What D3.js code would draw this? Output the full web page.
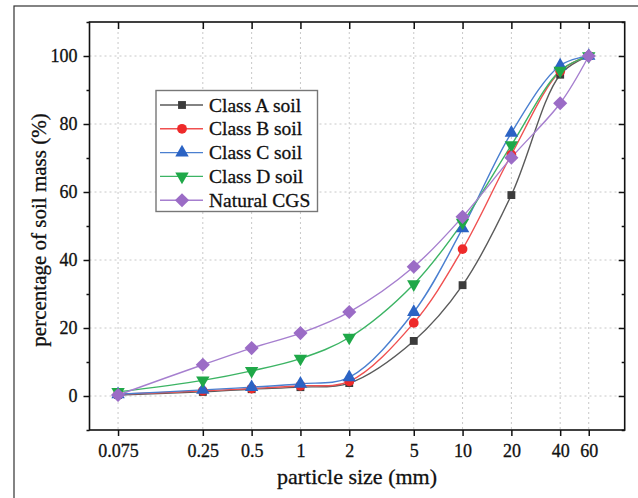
<!DOCTYPE html>
<html><head><meta charset="utf-8">
<script src="https://cdn.jsdelivr.net/npm/d3@7"></script>
<style>body{margin:0;background:#fff}svg{display:block}</style>
</head><body>
<svg id="c" width="638" height="498"></svg>
<script>
const sizes = [0.075, 0.25, 0.5, 1, 2, 5, 10, 20, 40, 60];
const tickLabels = ["0.075","0.25","0.5","1","2","5","10","20","40","60"];
const classA = [0.3, 1.2, 2.0, 2.6, 3.8, 16.2, 32.6, 59.1, 94.5, 100];
const classB = [0.5, 1.5, 2.2, 3.0, 4.3, 21.5, 43.2, 71.0, 95.5, 100];
const classC = [0.5, 1.8, 2.6, 3.6, 5.5, 24.7, 49.3, 77.4, 97.2, 100];
const classD = [1.2, 4.6, 7.4, 11.0, 17.2, 32.9, 51.0, 73.8, 95.7, 100];
const natural = [0.3, 9.2, 14.1, 18.5, 24.7, 38.0, 52.7, 70.1, 86.1, 100];
const seriesNames = ["Class A soil","Class B soil","Class C soil","Class D soil","Natural CGS"];
const yTicks = [0, 20, 40, 60, 80, 100];

const diamond = {draw(ctx, size){ const r = Math.sqrt(size/2); ctx.moveTo(0,-r); ctx.lineTo(r,0); ctx.lineTo(0,r); ctx.lineTo(-r,0); ctx.closePath(); }};
const series = [
  {name: seriesNames[0], vals: classA, color: "#3c3c3c", line: "#5a5a5a", sym: d3.symbolSquare, size: 62, rot: 0},
  {name: seriesNames[1], vals: classB, color: "#ee2a2a", line: "#f05050", sym: d3.symbolCircle, size: 75, rot: 0},
  {name: seriesNames[2], vals: classC, color: "#2b63c4", line: "#4a7fd0", sym: d3.symbolTriangle, size: 78, rot: 0},
  {name: seriesNames[3], vals: classD, color: "#1fa848", line: "#3cb464", sym: d3.symbolTriangle, size: 78, rot: 180},
  {name: seriesNames[4], vals: natural, color: "#9b6cc6", line: "#a67fcf", sym: diamond, size: 100, rot: 0}
];

const svg = d3.select("#c");
const L = 89.5, R = 624.7, T = 22, B = 430;
const x = d3.scaleLog().domain([0.05, 100]).range([L, R]);
const y = d3.scaleLinear().domain([-10, 110]).range([B, T]);
const font = "'Liberation Serif','Times New Roman',serif";

// outer figure border
svg.append("rect").attr("x",14).attr("y",6).attr("width",700).attr("height",600)
  .attr("fill","none").attr("stroke","#333").attr("stroke-width",1.2);

// grid
const g = svg.append("g");
g.selectAll(".vg").data(sizes).join("line")
  .attr("x1", d=>x(d)).attr("x2", d=>x(d)).attr("y1", T).attr("y2", B)
  .attr("stroke","#c8c8c8").attr("stroke-width",1).attr("stroke-dasharray","2,3");
g.selectAll(".hg").data(yTicks).join("line")
  .attr("x1", L).attr("x2", R).attr("y1", d=>y(d)).attr("y2", d=>y(d))
  .attr("stroke","#c8c8c8").attr("stroke-width",1).attr("stroke-dasharray","2,3");

// axes
const xAxis = d3.axisBottom(x).tickValues(sizes).tickFormat((d,i)=>tickLabels[i]).tickSize(6).tickPadding(8);
svg.append("g").attr("transform",`translate(0,${B})`).call(xAxis)
  .attr("font-family",font).attr("font-size",18);
const xTop = d3.axisBottom(x).tickValues(sizes).tickFormat("").tickSize(7);
svg.append("g").attr("transform",`translate(0,${T})`).call(xTop);

const yMinor = [-10,10,30,50,70,90,110];
const yAxis = d3.axisLeft(y).tickValues(yTicks).tickSize(6).tickPadding(6);
svg.append("g").attr("transform",`translate(${L},0)`).call(yAxis)
  .attr("font-family",font).attr("font-size",18);
svg.append("g").attr("transform",`translate(${L},0)`).call(d3.axisLeft(y).tickValues(yMinor).tickFormat("").tickSize(3));
svg.append("g").attr("transform",`translate(${R},0)`).call(d3.axisLeft(y).tickValues(yTicks).tickFormat("").tickSize(6));
svg.append("g").attr("transform",`translate(${R},0)`).call(d3.axisLeft(y).tickValues(yMinor).tickFormat("").tickSize(3));

svg.selectAll(".domain").remove();
svg.selectAll(".tick line").attr("stroke","#111").attr("stroke-width",1.5);
svg.selectAll(".tick text").attr("fill","#111").attr("stroke","#111").attr("stroke-width",0.3);

// frame
svg.append("rect").attr("x",L).attr("y",T).attr("width",R-L).attr("height",B-T)
  .attr("fill","none").attr("stroke","#111").attr("stroke-width",1.6);

// lines
const line = d3.line().x(d=>x(d[0])).y(d=>y(d[1])).curve(d3.curveCatmullRom.alpha(0.5));
series.forEach(s=>{
  const pts = sizes.map((v,i)=>[v, s.vals[i]]);
  svg.append("path").attr("d", line(pts)).attr("fill","none")
    .attr("stroke", s.line).attr("stroke-width",1.4);
});
series.forEach(s=>{
  const pts = sizes.map((v,i)=>[v, s.vals[i]]);
  svg.append("g").selectAll("path").data(pts).join("path")
    .attr("d", d3.symbol().type(s.sym).size(s.size))
    .attr("transform", d=>`translate(${x(d[0])},${y(d[1])}) rotate(${s.rot})`)
    .attr("fill", s.color);
});

// legend
const lg = svg.append("g");
lg.append("rect").attr("x",156).attr("y",90.5).attr("width",161.5).attr("height",121)
  .attr("fill","#fff").attr("stroke","#777").attr("stroke-width",1.4);
series.forEach((s,i)=>{
  const yy = 105 + i*23.8;
  lg.append("line").attr("x1",160).attr("x2",203).attr("y1",yy).attr("y2",yy)
    .attr("stroke",s.line).attr("stroke-width",1.4);
  lg.append("path").attr("d", d3.symbol().type(s.sym).size(s.size))
    .attr("transform",`translate(182,${yy}) rotate(${s.rot})`).attr("fill",s.color);
  lg.append("text").attr("x",209).attr("y",yy+6.5).text(s.name)
    .attr("font-family",font).attr("font-size",19.5).attr("fill","#111")
    .attr("stroke","#111").attr("stroke-width",0.3);
});

// axis titles
svg.append("text").attr("x",357).attr("y",484).attr("text-anchor","middle")
  .attr("font-family",font).attr("font-size",22).attr("fill","#111")
  .attr("stroke","#111").attr("stroke-width",0.3).text("particle size (mm)");
svg.append("text").attr("transform","translate(46,230) rotate(-90)").attr("text-anchor","middle")
  .attr("font-family",font).attr("font-size",21).attr("fill","#111")
  .attr("stroke","#111").attr("stroke-width",0.3).text("percentage of soil mass (%)");
</script>
</body></html>
